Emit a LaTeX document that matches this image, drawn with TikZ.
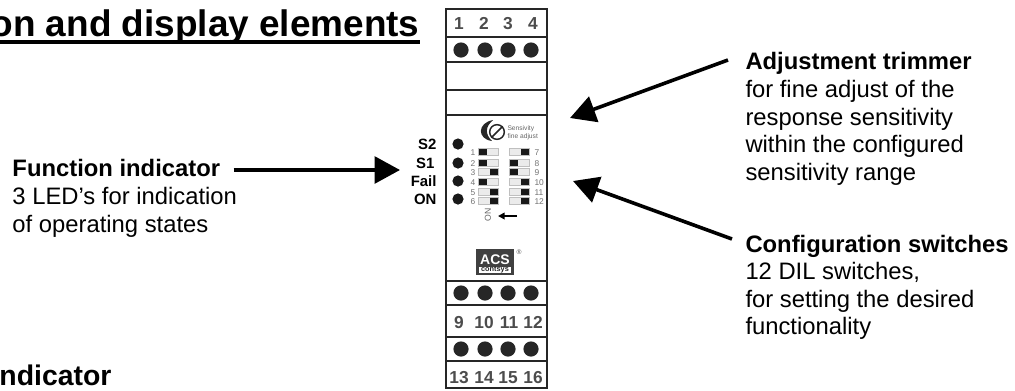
\documentclass[tikz,border=0pt]{standalone}
\usepackage{fontspec}
\setmainfont{Liberation Sans}
\usetikzlibrary{arrows.meta}
\tikzset{every picture/.style={line width=0.75pt}}
\tikzset{
  txt/.style={anchor=north west,inner sep=0.75pt,align=left,font=\fontsize{17.85}{20.6}\selectfont},
  head/.style={txt,font=\fontsize{17.85}{20.6}\selectfont\bfseries},
  pointer/.style={line width=2.7pt,-{Triangle[length=19pt,width=20pt]}},
  bay/.style={draw=black!85,line width=2.2pt},
  clamp/.style={circle,fill=black!85,inner sep=0pt,minimum size=11.4pt},
  lamp/.style={circle,fill=black!90,inner sep=0pt,minimum size=8.4pt},
  termno/.style={inner sep=0pt,text=black!70,text height=9.4pt,text depth=0pt,font=\fontsize{13}{13}\selectfont\bfseries},
  lampname/.style={anchor=east,inner sep=0.75pt,text height=8pt,text depth=0pt,font=\fontsize{11.2}{12}\selectfont\bfseries},
  dilno/.style={inner sep=0pt,text=black!55,text height=4.6pt,text depth=0pt,font=\fontsize{6.3}{7}\selectfont},
  dilbox/.style={draw=black!25,fill=black!8,line width=0.6pt,minimum width=15.5pt,minimum height=4.8pt,inner sep=0pt},
  dilknob/.style={fill=black!90,minimum width=5.5pt,minimum height=4.8pt,inner sep=0pt},
}
\begin{document}
\begin{tikzpicture}[x=0.75pt,y=0.75pt,yscale=-1,xscale=1]
\useasboundingbox (0,0) rectangle (1015,390);

% title, cut off by the page edge
\node (title) [anchor=base east,inner sep=0pt,font=\fontsize{27.7}{30}\selectfont\bfseries] at (420,36) {on and display elements};
\draw [line width=2.7pt] ([yshift=4.5pt]title.base west) -- ([yshift=4.5pt]title.base east);
\node (lowhead) [anchor=base east,inner sep=0pt,font=\fontsize{21.3}{24}\selectfont\bfseries] at (112,385) {ndicator};

% device housing
\draw [bay] (446,9) rectangle (547,388);
\foreach \yy in {37,62,90,115,281,305,337,361} {
  \draw [bay] (446,\yy) -- (547,\yy);
}

% terminals
\foreach \xx/\nn in {459/1,484/2,508/3,533/4} {
  \node (t\nn) [termno] at (\xx,23) {\nn};
}
\foreach \xx/\nn in {459/9,484/10,509/11,533/12} {
  \node (t\nn) [termno] at (\xx,322) {\nn};
}
\foreach \xx/\nn in {459/13,484/14,508/15,533/16} {
  \node (t\nn) [termno] at (\xx,377) {\nn};
}
\foreach \xx [count=\ii] in {461,485,508,531} {
  \node (ca\ii) [clamp] at (\xx,50) {};
  \node (cb\ii) [clamp] at (\xx,293) {};
  \node (cc\ii) [clamp] at (\xx,349) {};
}

% LEDs
\foreach \yy/\nm/\ii/\xx in {144/S2/1/438,163/S1/2/436,181/Fail/3/438,199/ON/4/438} {
  \node (led\ii) [lamp] at (458,\yy) {};
  \node (lbl\ii) [lampname] at (\xx,\yy) {\nm};
}

% trimmer
\fill [black!85] (493,120) .. controls (477,123) and (477,139) .. (492,141) .. controls (485,134) and (485,127) .. (493,120) -- cycle;
\node (trim) [circle,draw=black!85,fill=white,line width=1.1pt,inner sep=0pt,minimum size=11pt] at (497,132) {};
\draw [black!85,line width=1.1pt] (trim.south west) -- (trim.north east);
\node (trimtxt) [anchor=west,inner sep=0pt,align=left,text=black!60,font=\fontsize{5}{5.6}\selectfont] at (507,133) {Sensivity\\fine adjust};

% DIL switches
\foreach \yy/\ll/\lpos/\rr/\rpos in {152/1/-1/7/1,163/2/-1/8/-1,172/3/1/9/-1,182/4/-1/10/1,192/5/1/11/1,201/6/1/12/1} {
  \node (dl\ll) [dilbox] at (488.5,\yy) {};
  \node [dilknob] at ({488.5+\lpos*5.6},\yy) {};
  \node (nl\ll) [dilno] at (473,\yy) {\ll};
  \node (dr\rr) [dilbox] at (519.5,\yy) {};
  \node [dilknob] at ({519.5+\rpos*5.6},\yy) {};
  \node (nr\rr) [dilno,anchor=west] at (534,\yy) {\rr};
}
\node (onmark) [rotate=90,inner sep=0pt,text=black!60,font=\fontsize{6.5}{8}\selectfont] at (488,215) {ON};
\coordinate (onstart) at (517,216);
\coordinate (ontip) at (498,216);
\draw [line width=1.3pt,-{Triangle[length=5pt,width=5pt]}] (onstart) -- (ontip);

% logo
\node (logo) [draw=black!75,fill=black!75,line width=1pt,minimum width=27pt,minimum height=18pt,inner sep=0pt] at (495,262) {};
\node (acs) [inner sep=0pt,text=white,font=\fontsize{10.5}{11}\selectfont\bfseries] at (495,260) {ACS};
\node (cons) [fill=white,inner sep=0pt,text=black!85,minimum width=24pt,minimum height=4.8pt,font=\fontsize{5.5}{6}\selectfont\bfseries] at (495,270) {contsys};
\node (reg) [inner sep=0pt,text=black!70,font=\fontsize{5}{6}\selectfont] at (519,252) {\textregistered};

% function indicator
\node (fnhead) [head] at (11,158) {Function indicator};
\node (fnbody) [txt] at (11,186) {3 LED’s for indication\\of operating states};
\coordinate (fntip) at (400,170);
\draw [pointer] ([xshift=9pt]fnhead.east |- fntip) -- (fntip);

% adjustment trimmer
\node (adjhead) [head] at (744,51) {Adjustment trimmer};
\node (adjbody) [txt] at (744,79) {for fine adjust of the\\response sensitivity\\within the configured\\sensitivity range};
\coordinate (adjtip) at (570,118);
\draw [pointer] ([xshift=-12pt,yshift=6.75pt]adjhead.north west) -- (adjtip);

% configuration switches
\node (cfghead) [head] at (744,234) {Configuration switches};
\node (cfgbody) [txt] at (744,261) {12 DIL switches,\\for setting the desired\\functionality};
\coordinate (cfgtip) at (573,181);
\draw [pointer] ([xshift=-9pt,yshift=3.75pt]cfghead.north west) -- (cfgtip);

\end{tikzpicture}
\end{document}
